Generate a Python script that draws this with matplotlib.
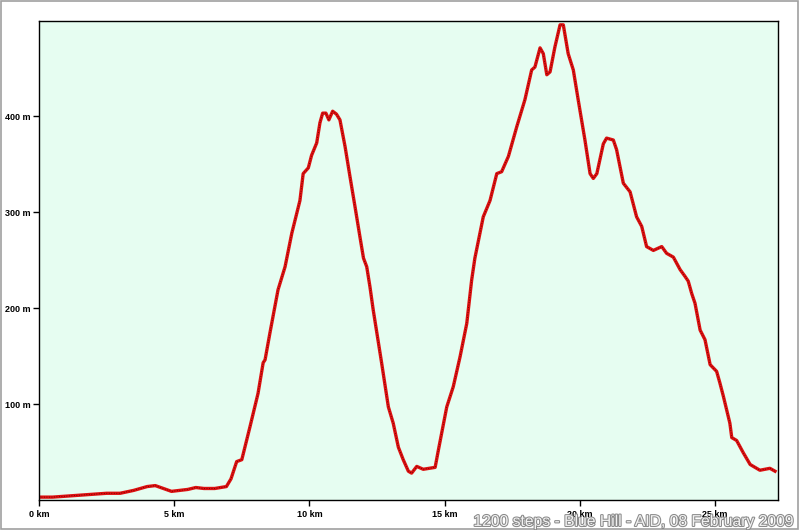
import matplotlib
matplotlib.use("Agg")
import matplotlib.pyplot as plt
import matplotlib.patheffects as pe
from matplotlib.patches import Rectangle

# Elevation profile (km, m)
distance_km = [0.0, 0.5, 1.0, 1.5, 2.0, 2.5, 3.0, 3.5, 4.0, 4.3, 4.6, 4.9, 5.2, 5.5, 5.8, 6.1, 6.5,
               6.93, 7.1, 7.31, 7.5, 7.8, 8.1, 8.29, 8.36, 8.54, 8.84, 9.1, 9.35, 9.65, 9.77, 9.96,
               10.08, 10.27, 10.39, 10.49, 10.61, 10.72, 10.86, 11.0, 11.13, 11.32, 11.5, 11.69,
               11.87, 12.0, 12.12, 12.24, 12.36, 12.67, 12.92, 13.1, 13.29, 13.47, 13.66, 13.78,
               13.97, 14.21, 14.65, 14.77, 15.08, 15.32, 15.57, 15.82, 16.0, 16.12, 16.43, 16.68,
               16.93, 17.11, 17.36, 17.67, 17.97, 18.22, 18.34, 18.53, 18.65, 18.78, 18.9, 19.08,
               19.27, 19.39, 19.57, 19.76, 19.94, 20.19, 20.38, 20.5, 20.63, 20.87, 20.99, 21.24,
               21.36, 21.61, 21.86, 22.1, 22.29, 22.47, 22.72, 23.03, 23.21, 23.46, 23.71, 23.89,
               24.01, 24.14, 24.26, 24.45, 24.63, 24.82, 25.06, 25.18, 25.31, 25.55, 25.62, 25.8,
               26.05, 26.3, 26.66, 27.03, 27.22]
elevation_m = [3, 3, 4, 5, 6, 7, 7, 10, 14, 15, 12, 9, 10, 11, 13, 12, 12,
               14, 22, 40, 42, 76, 111, 143, 146, 174, 219, 243, 278, 312, 340, 346,
               359, 372, 393, 403, 403, 396, 405, 402, 396, 368, 337, 305,
               274, 252, 243, 222, 198, 143, 97, 80, 55, 42, 30, 28,
               35, 32, 34, 52, 97, 118, 149, 184, 229, 252, 295, 312,
               340, 342, 358, 389, 417, 448, 451, 471, 465, 443, 446, 472,
               495, 495, 465, 448, 417, 375, 340, 335, 340, 371, 377, 375,
               365, 330, 321, 295, 285, 264, 260, 264, 257, 253, 240, 233,
               228, 215, 205, 177, 167, 141, 134, 122, 108, 80, 65, 62,
               49, 37, 31, 33, 30]

x_ticks = [0, 5, 10, 15, 20, 25]
x_labels = ["0 km", "5 km", "10 km", "15 km", "20 km", "25 km"]
y_ticks = [100, 200, 300, 400]
y_labels = ["100 m", "200 m", "300 m", "400 m"]
title = "1200 steps - Blue Hill - AID, 08 February 2009"

fig = plt.figure(figsize=(7.99, 5.30), dpi=100)
fig.patch.set_facecolor("white")
fig.patches.append(Rectangle((0.001, 0.001), 0.998, 0.997, transform=fig.transFigure,
                             fill=False, edgecolor="#a0a0a0", linewidth=1.2))

ax = fig.add_axes([39/799, 1-500/530, (778-39)/799, (500-21)/530])
ax.set_facecolor("#e6fdf1")
ax.plot(distance_km, elevation_m, color="#dd1010", linewidth=2.4, solid_joinstyle="round")
ax.plot(distance_km, elevation_m, color="#5a0000", linewidth=0.6, linestyle=(0, (1, 2)))
ax.set_xlim(0, (778-39)/27.04)
ax.set_ylim(0, 499)

ax.set_xticks(x_ticks)
ax.set_xticklabels(x_labels)
ax.set_yticks(y_ticks)
ax.set_yticklabels(y_labels)
ax.tick_params(axis="both", direction="out", length=4, width=1, labelsize=6.5, pad=2)
for lab in ax.get_xticklabels() + ax.get_yticklabels():
    lab.set_fontweight("bold")
    lab.set_family("Liberation Sans")
ax.tick_params(axis="x", pad=3)
for s in ax.spines.values():
    s.set_linewidth(1.0)
    s.set_color("black")

fig.text(0.995, 0.002, title, ha="right", va="bottom", fontsize=11.3, family="Liberation Sans",
         color="#f2f2f2",
         path_effects=[pe.Stroke(linewidth=1.5, foreground="#8a8a8a"), pe.Normal()])

fig.savefig("out.png", dpi=100)
